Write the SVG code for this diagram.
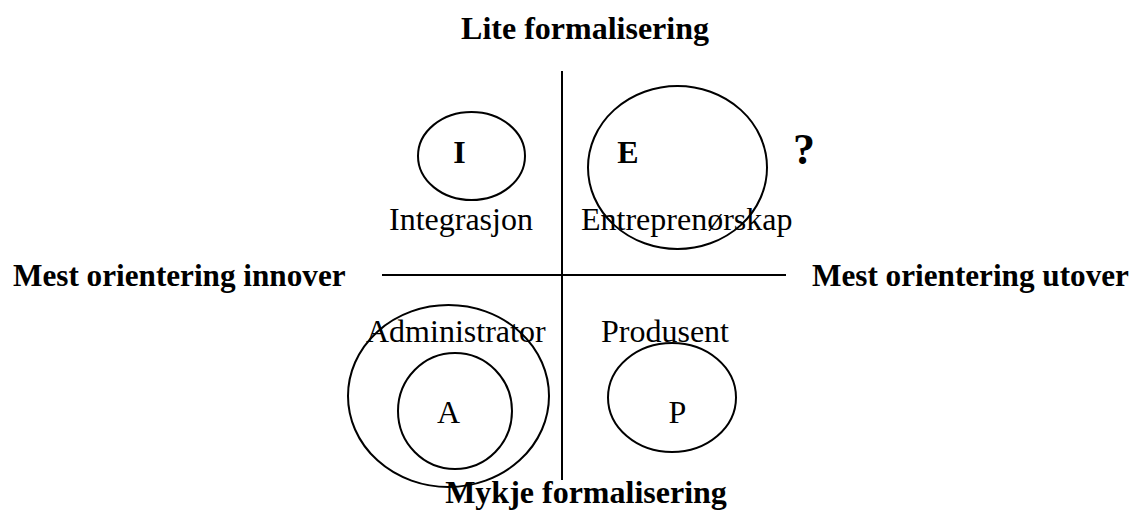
<svg xmlns="http://www.w3.org/2000/svg" width="1139" height="510" viewBox="0 0 1139 510">
<style>
.ln{stroke:#000;stroke-width:2;fill:none}
.sh{stroke:#000;stroke-width:2;fill:none}
.b{font-family:"Liberation Serif","Times New Roman",serif;font-weight:bold;fill:#000}
.r{font-family:"Liberation Serif","Times New Roman",serif;fill:#000;font-size:32px}
</style>
<rect width="1139" height="510" fill="#fff"/>
<g id="axes">
<line class="ln" x1="562" y1="71" x2="562" y2="480"/>
<line class="ln" x1="382" y1="275" x2="786" y2="275"/>
</g>
<g id="axis-labels">
<text class="b" x="585" y="39" font-size="32" text-anchor="middle">Lite formalisering</text>
<text class="b" x="586" y="503" font-size="32" text-anchor="middle">Mykje formalisering</text>
<text class="b" x="13" y="286" font-size="31.2">Mest orientering innover</text>
<text class="b" x="812" y="286" font-size="31.2">Mest orientering utover</text>
</g>
<g id="node-I">
<ellipse class="sh" cx="471.5" cy="156" rx="53.5" ry="44"/>
<text class="b" x="459.5" y="163" font-size="32" text-anchor="middle">I</text>
<text class="r" x="389" y="230">Integrasjon</text>
</g>
<g id="node-E">
<ellipse class="sh" cx="677.5" cy="167.5" rx="89.5" ry="81.5"/>
<text class="b" x="628" y="163" font-size="32" text-anchor="middle">E</text>
<text class="r" x="581" y="230">Entreprenørskap</text>
<text class="b" x="804" y="164" font-size="44" text-anchor="middle">?</text>
</g>
<g id="node-A">
<ellipse class="sh" cx="448.5" cy="396" rx="100.5" ry="91"/>
<ellipse class="sh" cx="455" cy="411" rx="57" ry="58"/>
<text class="r" x="366" y="342">Administrator</text>
<text class="r" x="448.5" y="423" text-anchor="middle">A</text>
</g>
<g id="node-P">
<ellipse class="sh" cx="672" cy="397.5" rx="64" ry="54.5"/>
<text class="r" x="601" y="342">Produsent</text>
<text class="r" x="677.5" y="423" text-anchor="middle">P</text>
</g>
</svg>
